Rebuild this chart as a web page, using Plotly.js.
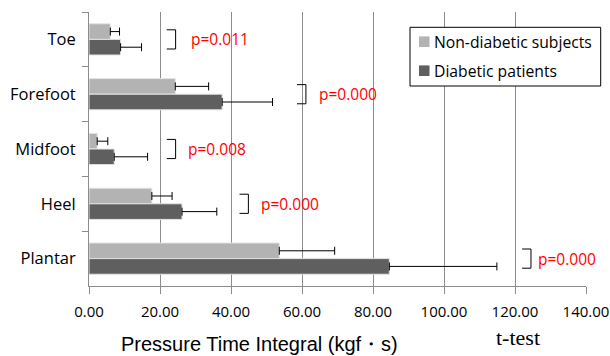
<!DOCTYPE html>
<html>
<head>
<meta charset="utf-8">
<script src="https://cdn.plot.ly/plotly-3.0.1.min.js"></script>
<style>html,body{margin:0;padding:0;background:#fff;}#chart{width:610px;height:356px;}</style>
</head>
<body>
<div id="chart"></div>
<script>
// ---- data ----
const categories = ["Toe", "Forefoot", "Midfoot", "Heel", "Plantar"];
const nonDiabeticMean = [6.0, 24.3, 2.3, 17.7, 53.6];
const nonDiabeticSD   = [2.6, 9.4, 3.0, 5.7, 15.6];
const diabeticMean    = [8.9, 37.5, 7.1, 26.2, 84.6];
const diabeticSD      = [5.9, 14.2, 9.4, 9.8, 30.3];
const pValues = ["p=0.011", "p=0.000", "p=0.008", "p=0.000", "p=0.000"];
const bracketX = [24.4, 61.1, 24.4, 44.9, 124.5];
const pLabelX  = [28.1, 64.3, 27.3, 48.0, 125.9];
const seriesNames = ["Non-diabetic subjects", "Diabetic patients"];
const xTicks = [0, 20, 40, 60, 80, 100, 120, 140];

// ---- styling ----
const lightColor = "#b3b3b3";
const darkColor = "#5f5f5f";
const gridColor = "#8c8c8c";
const baseFont = "Open Sans, Noto Sans, sans-serif";

const W = 610, H = 356, L = 89, R = 24, T = 12, B = 70;
const PW = W - L - R, PH = H - T - B;
const px = x => (x - L) / PW;
const py = y => (H - B - y) / PH;

const zeros = categories.map(() => 0);

const traces = [
  {
    type: "bar", orientation: "h", name: seriesNames[0],
    y: categories, x: nonDiabeticMean,
    marker: {color: lightColor, line: {color: "#e4e4e4", width: 1}},
    error_x: {type: "data", symmetric: false, array: nonDiabeticSD, arrayminus: zeros,
              color: "#000000", thickness: 1, width: 4},
    showlegend: false, hoverinfo: "x"
  },
  {
    type: "bar", orientation: "h", name: seriesNames[1],
    y: categories, x: diabeticMean,
    marker: {color: darkColor, line: {color: "#e4e4e4", width: 1}},
    error_x: {type: "data", symmetric: false, array: diabeticSD, arrayminus: zeros,
              color: "#000000", thickness: 1, width: 4},
    showlegend: false, hoverinfo: "x"
  }
];

const shapes = [];
const annotations = [];
const arm = 2.5, half = 0.175;
categories.forEach((c, i) => {
  const bx = bracketX[i];
  const line = {color: "#000000", width: 1};
  shapes.push({type: "line", xref: "x", yref: "y", x0: bx, x1: bx, y0: i - half, y1: i + half, line});
  shapes.push({type: "line", xref: "x", yref: "y", x0: bx - arm, x1: bx, y0: i - half, y1: i - half, line});
  shapes.push({type: "line", xref: "x", yref: "y", x0: bx - arm, x1: bx, y0: i + half, y1: i + half, line});
  annotations.push({
    xref: "x", yref: "y", x: pLabelX[i], y: c, text: pValues[i],
    xanchor: "left", yanchor: "middle", showarrow: false,
    font: {family: baseFont, size: 15.5, color: "#ff0000"}
  });
});

// legend drawn manually
shapes.push({type: "rect", xref: "paper", yref: "paper",
  x0: px(410), x1: px(600.7), y0: py(86), y1: py(27.3),
  line: {color: "#000000", width: 1}, fillcolor: "#ffffff", layer: "above"});
const legendRows = [41.7, 70.7];
const legendColors = [lightColor, darkColor];
legendRows.forEach((ry, k) => {
  shapes.push({type: "rect", xref: "paper", yref: "paper",
    x0: px(419), x1: px(429.5), y0: py(ry + 5.3), y1: py(ry - 5.3),
    line: {width: 0}, fillcolor: legendColors[k], layer: "above"});
  annotations.push({xref: "paper", yref: "paper", x: px(432), y: py(ry),
    xanchor: "left", yanchor: "middle", showarrow: false, text: seriesNames[k],
    font: {family: baseFont, size: 15.7, color: "#000000"}});
});

// axis titles
annotations.push({xref: "paper", yref: "paper", x: px(259.5), y: py(344),
  xanchor: "center", yanchor: "middle", showarrow: false,
  text: "Pressure Time Integral (kgf・s)",
  font: {family: "Liberation Sans, Arial, sans-serif", size: 20, color: "#000000"}});
annotations.push({xref: "paper", yref: "paper", x: px(518), y: py(337),
  xanchor: "center", yanchor: "middle", showarrow: false, text: "t-test",
  font: {family: "Liberation Serif, Times New Roman, serif", size: 22, color: "#000000"}});

const layout = {
  width: W, height: H,
  margin: {l: L, r: R, t: T, b: B, pad: 0},
  paper_bgcolor: "#ffffff", plot_bgcolor: "#ffffff",
  barmode: "group", bargap: 0.43, bargroupgap: 0,
  showlegend: false,
  font: {family: baseFont, size: 15, color: "#000000"},
  xaxis: {
    range: [0, 140], tickvals: xTicks, ticktext: xTicks.map(v => v.toFixed(2)),
    showgrid: true, gridcolor: gridColor, gridwidth: 1,
    showline: true, linecolor: gridColor, linewidth: 1,
    ticks: "outside", ticklen: 7, tickcolor: gridColor, ticklabelstandoff: 5,
    zeroline: false, fixedrange: true,
    tickfont: {family: baseFont, size: 15, color: "#000000"}
  },
  yaxis: {
    type: "category", autorange: "reversed",
    showgrid: false, showline: true, linecolor: gridColor, linewidth: 1,
    ticks: "outside", ticklen: 6, tickcolor: gridColor, tickson: "boundaries",
    ticklabelstandoff: 9, zeroline: false, fixedrange: true,
    tickfont: {family: baseFont, size: 16.5, color: "#000000"}
  },
  shapes, annotations
};

Plotly.newPlot("chart", traces, layout, {displayModeBar: false, staticPlot: true});
</script>
</body>
</html>
